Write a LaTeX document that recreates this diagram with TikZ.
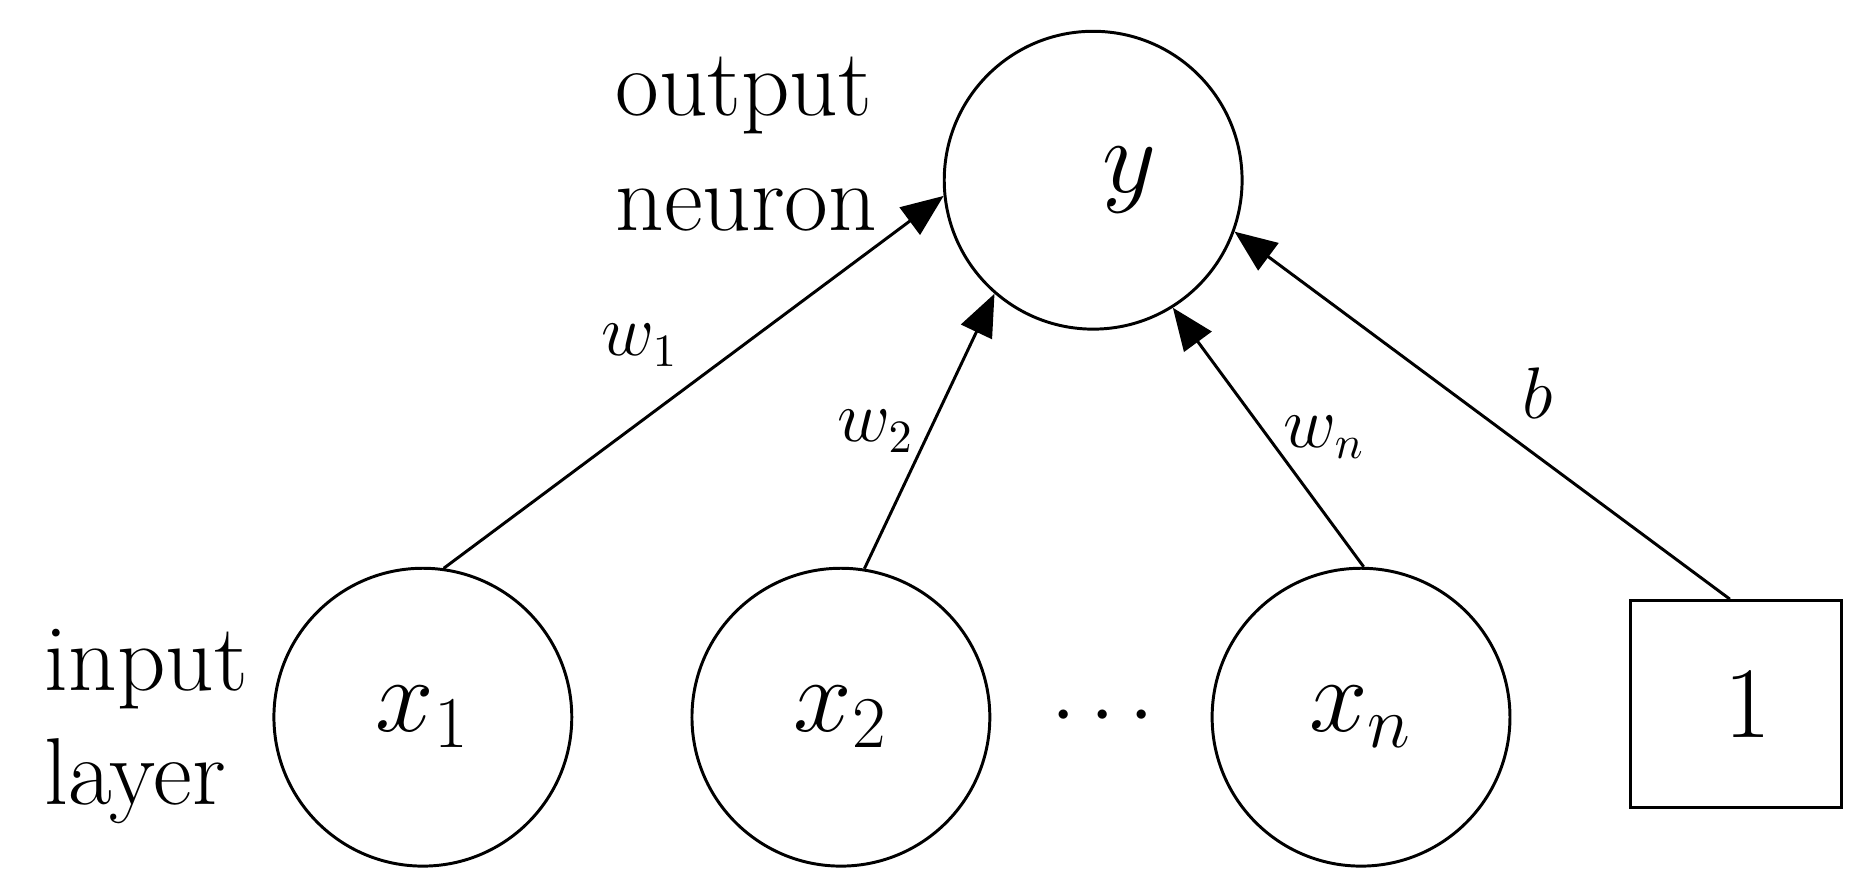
\documentclass[tikz,border=0pt]{standalone}
\usetikzlibrary{arrows.meta}
\begin{document}
\begin{tikzpicture}[x=0.01cm,y=-0.01cm,
    neuron/.style={circle, draw, line width=0.7pt, minimum size=7cm*0.354, inner sep=0pt, font=\fontsize{24}{28}\selectfont},
    bias/.style={rectangle, draw, line width=0.7pt, minimum width=1.75cm, minimum height=1.72cm, font=\fontsize{24}{28}\selectfont},
    conn/.style={line width=0.7pt, -{Triangle[length=10pt,width=8pt]}},
    wlab/.style={font=\fontsize{16}{18}\selectfont},
    txt/.style={font=\fontsize{22.5}{27}\selectfont, align=left}
  ]
  \useasboundingbox (0,0) rectangle (1560,735);
  \node[neuron] (y) at (910,150) {\hspace{0.6cm}$y$};
  \node[neuron] (x1) at (352,597) {$x_1$};
  \node[neuron] (x2) at (700,597) {$x_2$};
  \node[neuron] (xn) at (1133,597) {$x_n$};
  \node[bias] (one) at (1445,586) {\hspace{0.2cm}1};
  \node[font=\fontsize{20}{24}\selectfont] (dots) at (918,597) {$\cdots$};
  \node[txt, anchor=west] (out) at (500,120) {output\\neuron};
  \node[txt, anchor=west] (in) at (25,605) {input\\layer};
  \draw[conn] (x1.82) -- (y.186) node[wlab, pos=0.5, above left] (l1) {$w_1$};
  \draw[conn] (x2.81) -- (y.229) node[wlab, pos=0.5, left] (l2) {$w_2$};
  \draw[conn] (xn.89) -- (y.302) node[wlab, pos=0.5, right] (ln) {$w_n$};
  \draw[conn] ([xshift=-0.05cm]one.north) -- (y.340) node[wlab, pos=0.45, above right] (lb) {$b$};
\end{tikzpicture}
\end{document}
